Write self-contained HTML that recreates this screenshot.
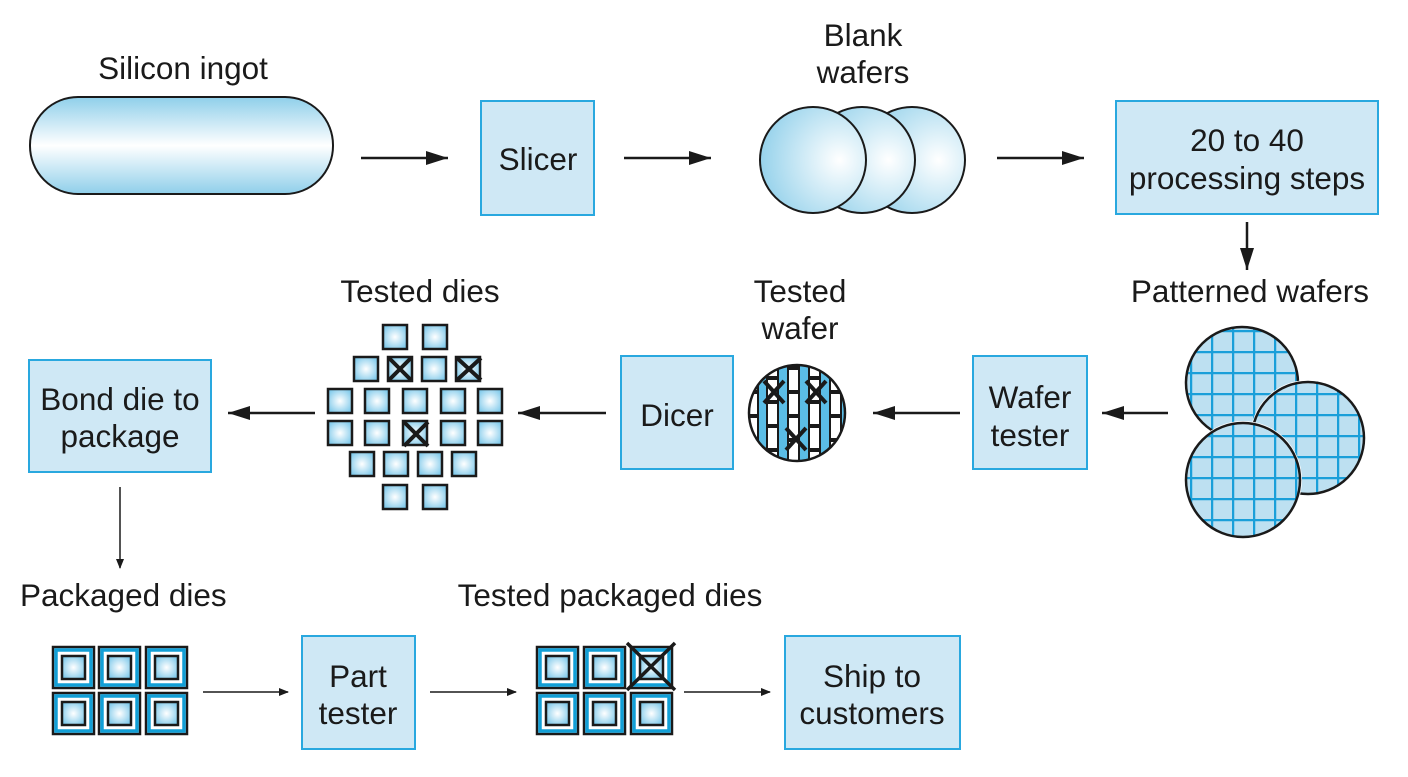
<!DOCTYPE html>
<html><head><meta charset="utf-8"><style>
html,body{margin:0;padding:0;background:#fff;}
svg{display:block}
text{font-family:"Liberation Sans",Arial,sans-serif;font-size:31.5px;fill:#1a1a1a;}
</style></head><body>
<svg width="1408" height="777" viewBox="0 0 1408 777" xmlns="http://www.w3.org/2000/svg">
<defs>
<linearGradient id="ing" x1="0" y1="0" x2="0" y2="1">
<stop offset="0" stop-color="#8fcfea"/><stop offset="0.5" stop-color="#ffffff"/><stop offset="1" stop-color="#8fcfea"/>
</linearGradient>
<radialGradient id="wf" cx="0.75" cy="0.5" r="0.8">
<stop offset="0" stop-color="#ffffff"/><stop offset="1" stop-color="#8fcfea"/>
</radialGradient>
<radialGradient id="sq" cx="0.5" cy="0.5" r="0.6">
<stop offset="0" stop-color="#ffffff"/><stop offset="1" stop-color="#7cc8ea"/>
</radialGradient>
<marker id="ah" markerWidth="10" markerHeight="10" refX="9" refY="5" orient="auto" markerUnits="userSpaceOnUse" viewBox="0 0 10 10">
<path d="M0,1 L10,5 L0,9 Z" fill="#1a1a1a"/>
</marker>
<marker id="ah2" markerWidth="22" markerHeight="14" refX="22" refY="7" orient="auto" markerUnits="userSpaceOnUse">
<path d="M0,0 L22,7 L0,14 Z" fill="#1a1a1a"/>
</marker>
<g id="die"><rect x="0" y="0" width="24" height="24" fill="url(#sq)" stroke="#1a1a1a" stroke-width="2.5"/></g>
<g id="pk">
<rect x="1" y="1" width="41" height="41" fill="#ffffff" stroke="#1a1a1a" stroke-width="2.5"/>
<rect x="4" y="4" width="35" height="35" fill="none" stroke="#129fd6" stroke-width="3.5"/>
<rect x="10" y="10" width="23" height="23" fill="url(#sq)" stroke="#1a1a1a" stroke-width="2.5"/>
</g>
<clipPath id="c1"><circle cx="1242" cy="383" r="56"/></clipPath>
<clipPath id="c2"><circle cx="1308" cy="438" r="56"/></clipPath>
<clipPath id="c3"><circle cx="1243" cy="480" r="57"/></clipPath>
<clipPath id="cw"><circle cx="797" cy="413" r="48"/></clipPath>
<pattern id="grid" width="21" height="21" patternUnits="userSpaceOnUse" x="1190" y="330">
<rect width="21" height="21" fill="#bde0f1"/>
<path d="M0,0 H21 M0,0 V21" stroke="#1a9fd9" stroke-width="4.5"/>
</pattern>
</defs>

<!-- Row 1 -->
<text x="183" y="79" text-anchor="middle">Silicon ingot</text>
<rect x="30" y="97" width="303" height="97" rx="48" fill="url(#ing)" stroke="#1a1a1a" stroke-width="2"/>
<line x1="361" y1="158" x2="448" y2="158" stroke="#1a1a1a" stroke-width="2.5" marker-end="url(#ah2)"/>
<rect x="481" y="101" width="113" height="114" fill="#cfe8f5" stroke="#29a8df" stroke-width="2"/>
<text x="538" y="170" text-anchor="middle">Slicer</text>
<line x1="624" y1="158" x2="711" y2="158" stroke="#1a1a1a" stroke-width="2.5" marker-end="url(#ah2)"/>
<text x="863" y="46" text-anchor="middle">Blank</text>
<text x="863" y="83" text-anchor="middle">wafers</text>
<circle cx="912" cy="160" r="53" fill="url(#wf)" stroke="#1a1a1a" stroke-width="2"/>
<circle cx="862" cy="160" r="53" fill="url(#wf)" stroke="#1a1a1a" stroke-width="2"/>
<circle cx="813" cy="160" r="53" fill="url(#wf)" stroke="#1a1a1a" stroke-width="2"/>
<line x1="997" y1="158" x2="1084" y2="158" stroke="#1a1a1a" stroke-width="2.5" marker-end="url(#ah2)"/>
<rect x="1116" y="101" width="262" height="113" fill="#cfe8f5" stroke="#29a8df" stroke-width="2"/>
<text x="1247" y="151" text-anchor="middle">20 to 40</text>
<text x="1247" y="189" text-anchor="middle">processing steps</text>
<line x1="1247" y1="222" x2="1247" y2="270" stroke="#1a1a1a" stroke-width="2.5" marker-end="url(#ah2)"/>

<!-- Row 2 -->
<text x="1250" y="302" text-anchor="middle">Patterned wafers</text>
<g clip-path="url(#c1)"><rect x="1180" y="320" width="130" height="130" fill="url(#grid)"/></g>
<circle cx="1242" cy="383" r="56" fill="none" stroke="#1a1a1a" stroke-width="2.5"/>
<circle cx="1308" cy="438" r="58" fill="#fff"/>
<g clip-path="url(#c2)"><rect x="1245" y="375" width="130" height="130" fill="url(#grid)"/></g>
<circle cx="1308" cy="438" r="56" fill="none" stroke="#1a1a1a" stroke-width="2.5"/>
<circle cx="1243" cy="480" r="59" fill="#fff"/>
<g clip-path="url(#c3)"><rect x="1180" y="420" width="130" height="130" fill="url(#grid)"/></g>
<circle cx="1243" cy="480" r="57" fill="none" stroke="#1a1a1a" stroke-width="2.5"/>

<line x1="1168" y1="413" x2="1102" y2="413" stroke="#1a1a1a" stroke-width="2.5" marker-end="url(#ah2)"/>
<rect x="973" y="356" width="114" height="113" fill="#cfe8f5" stroke="#29a8df" stroke-width="2"/>
<text x="1030" y="408" text-anchor="middle">Wafer</text>
<text x="1030" y="446" text-anchor="middle">tester</text>
<line x1="960" y1="413" x2="873" y2="413" stroke="#1a1a1a" stroke-width="2.5" marker-end="url(#ah2)"/>

<text x="800" y="302" text-anchor="middle">Tested</text>
<text x="800" y="339" text-anchor="middle">wafer</text>
<circle cx="797" cy="413" r="48" fill="#5bbde6"/>
<g clip-path="url(#cw)" stroke="#1a1a1a" stroke-width="2" fill="#ffffff">
<rect x="747" y="345" width="11" height="22"/><rect x="747" y="369" width="11" height="22"/><rect x="747" y="393" width="11" height="22"/><rect x="747" y="417" width="11" height="22"/><rect x="747" y="441" width="11" height="22"/>
<rect x="767" y="355" width="11" height="22"/><rect x="767" y="379" width="11" height="22"/><rect x="767" y="403" width="11" height="22"/><rect x="767" y="427" width="11" height="22"/><rect x="767" y="451" width="11" height="22"/>
<rect x="788" y="345" width="11" height="22"/><rect x="788" y="369" width="11" height="22"/><rect x="788" y="393" width="11" height="22"/><rect x="788" y="417" width="11" height="22"/><rect x="788" y="441" width="11" height="22"/>
<rect x="809" y="355" width="11" height="22"/><rect x="809" y="379" width="11" height="22"/><rect x="809" y="403" width="11" height="22"/><rect x="809" y="427" width="11" height="22"/><rect x="809" y="451" width="11" height="22"/>
<rect x="830" y="345" width="11" height="22"/><rect x="830" y="369" width="11" height="22"/><rect x="830" y="393" width="11" height="22"/><rect x="830" y="417" width="11" height="22"/><rect x="830" y="441" width="11" height="22"/>
</g>
<g stroke="#1a1a1a" stroke-width="4">
<path d="M764,381 L784,403 M784,381 L764,403"/>
<path d="M806,381 L826,403 M826,381 L806,403"/>
<path d="M786,428 L806,450 M806,428 L786,450"/>
</g>
<circle cx="797" cy="413" r="48" fill="none" stroke="#1a1a1a" stroke-width="2.5"/>

<rect x="621" y="356" width="112" height="113" fill="#cfe8f5" stroke="#29a8df" stroke-width="2"/>
<text x="677" y="426" text-anchor="middle">Dicer</text>
<line x1="606" y1="413" x2="518" y2="413" stroke="#1a1a1a" stroke-width="2.5" marker-end="url(#ah2)"/>

<text x="420" y="302" text-anchor="middle">Tested dies</text>
<use href="#die" x="383" y="325"/><use href="#die" x="423" y="325"/>
<use href="#die" x="354" y="357"/><use href="#die" x="388" y="357"/><use href="#die" x="422" y="357"/><use href="#die" x="456" y="357"/>
<use href="#die" x="328" y="389"/><use href="#die" x="365" y="389"/><use href="#die" x="403" y="389"/><use href="#die" x="441" y="389"/><use href="#die" x="478" y="389"/>
<use href="#die" x="328" y="421"/><use href="#die" x="365" y="421"/><use href="#die" x="403" y="421"/><use href="#die" x="441" y="421"/><use href="#die" x="478" y="421"/>
<use href="#die" x="350" y="452"/><use href="#die" x="384" y="452"/><use href="#die" x="418" y="452"/><use href="#die" x="452" y="452"/>
<use href="#die" x="383" y="485"/><use href="#die" x="423" y="485"/>
<g stroke="#1a1a1a" stroke-width="4">
<path d="M389,358 L411,380 M411,358 L389,380"/>
<path d="M457,358 L481,380 M481,358 L457,380"/>
<path d="M404,422 L428,446 M428,422 L404,446"/>
</g>
<line x1="315" y1="413" x2="228" y2="413" stroke="#1a1a1a" stroke-width="2.5" marker-end="url(#ah2)"/>
<rect x="29" y="360" width="182" height="112" fill="#cfe8f5" stroke="#29a8df" stroke-width="2"/>
<text x="120" y="410" text-anchor="middle">Bond die to</text>
<text x="120" y="447" text-anchor="middle">package</text>
<line x1="120" y1="487" x2="120" y2="568" stroke="#1a1a1a" stroke-width="1.5" marker-end="url(#ah)"/>

<!-- Row 3 -->
<text x="20" y="606">Packaged dies</text>
<use href="#pk" x="52" y="646"/><use href="#pk" x="98" y="646"/><use href="#pk" x="145" y="646"/>
<use href="#pk" x="52" y="692"/><use href="#pk" x="98" y="692"/><use href="#pk" x="145" y="692"/>
<line x1="203" y1="692" x2="288" y2="692" stroke="#1a1a1a" stroke-width="1.5" marker-end="url(#ah)"/>
<rect x="302" y="636" width="113" height="113" fill="#cfe8f5" stroke="#29a8df" stroke-width="2"/>
<text x="358" y="687" text-anchor="middle">Part</text>
<text x="358" y="724" text-anchor="middle">tester</text>
<line x1="430" y1="692" x2="516" y2="692" stroke="#1a1a1a" stroke-width="1.5" marker-end="url(#ah)"/>
<text x="610" y="606" text-anchor="middle">Tested packaged dies</text>
<use href="#pk" x="536" y="646"/><use href="#pk" x="583" y="646"/><use href="#pk" x="630" y="646"/>
<use href="#pk" x="536" y="692"/><use href="#pk" x="583" y="692"/><use href="#pk" x="630" y="692"/>
<path d="M627,643 L675,690 M675,643 L627,690" stroke="#1a1a1a" stroke-width="3.5"/>
<line x1="684" y1="692" x2="770" y2="692" stroke="#1a1a1a" stroke-width="1.5" marker-end="url(#ah)"/>
<rect x="785" y="636" width="175" height="113" fill="#cfe8f5" stroke="#29a8df" stroke-width="2"/>
<text x="872" y="687" text-anchor="middle">Ship to</text>
<text x="872" y="724" text-anchor="middle">customers</text>
</svg>
</body></html>
